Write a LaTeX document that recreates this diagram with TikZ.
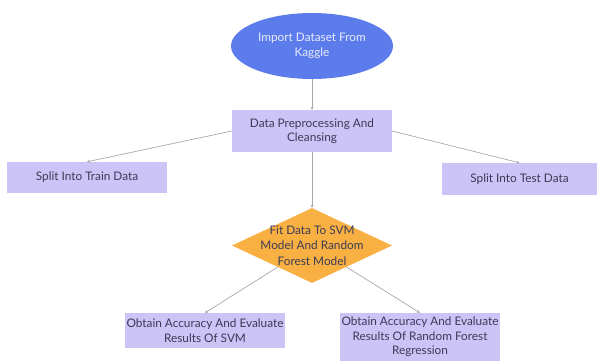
\documentclass[tikz,border=0pt]{standalone}
\usepackage{fontspec}
\setmainfont{Lato}
\usetikzlibrary{shapes.geometric, arrows.meta, positioning}
\definecolor{ovalblue}{HTML}{5D7CEB}
\definecolor{lavender}{HTML}{CCC3F7}
\definecolor{amber}{HTML}{F9B043}
\definecolor{inkgray}{HTML}{3B3B55}
\definecolor{linegray}{HTML}{A8A8A8}
\tikzstyle{start} = [ellipse, minimum width=162pt, minimum height=66pt, inner sep=0pt,
                     fill=ovalblue, text=white!85!ovalblue, align=center, font=\fontsize{11.8}{14.5}\selectfont]
\tikzstyle{process} = [rectangle, minimum width=160pt, minimum height=34pt, inner sep=0pt,
                       text centered, align=center, fill=lavender, text=inkgray, font=\fontsize{11.8}{14.5}\selectfont]
\tikzstyle{decision} = [diamond, minimum width=160pt, minimum height=75pt, inner sep=0pt,
                        fill=amber]
\tikzstyle{arrow} = [-{Stealth[length=3pt, width=3pt]}, line width=0.7pt, draw=linegray]

\begin{document}
\begin{tikzpicture}[x=1pt, y=-1pt]
    \useasboundingbox (0,0) rectangle (599,360);
    \node[start] (kaggle) at (312,46) {Import Dataset From\\Kaggle};
    \node[process, minimum height=42pt] (prep) at (312,131) {Data Preprocessing And\\Cleansing};
    \node[process, minimum height=31pt] (train) at (87,177.5) {Split Into Train Data};
    \node[process, minimum width=155pt, minimum height=32pt] (test) at (519.5,179) {Split Into Test Data};
    \node[decision, label={[align=center, text=inkgray, font=\fontsize{11.8}{15.5}\selectfont]center:Fit Data To SVM\\Model And Random\\Forest Model}] (fit) at (312,245.5) {};
    \node[process, minimum height=35pt] (svm) at (205,330.5) {Obtain Accuracy And Evaluate\\Results Of SVM};
    \node[process, minimum height=48pt] (rf) at (420,337) {Obtain Accuracy And Evaluate\\Results Of Random Forest\\Regression};

    \draw[arrow] (kaggle) -- (prep);
    \draw[arrow] (prep.west) -- (train.north);
    \draw[arrow] (prep.east) -- (test.north);
    \draw[arrow] (prep) -- (fit);
    \draw[arrow] (fit) -- (svm.north);
    \draw[arrow] (fit) -- (rf.north);
\end{tikzpicture}
\end{document}
